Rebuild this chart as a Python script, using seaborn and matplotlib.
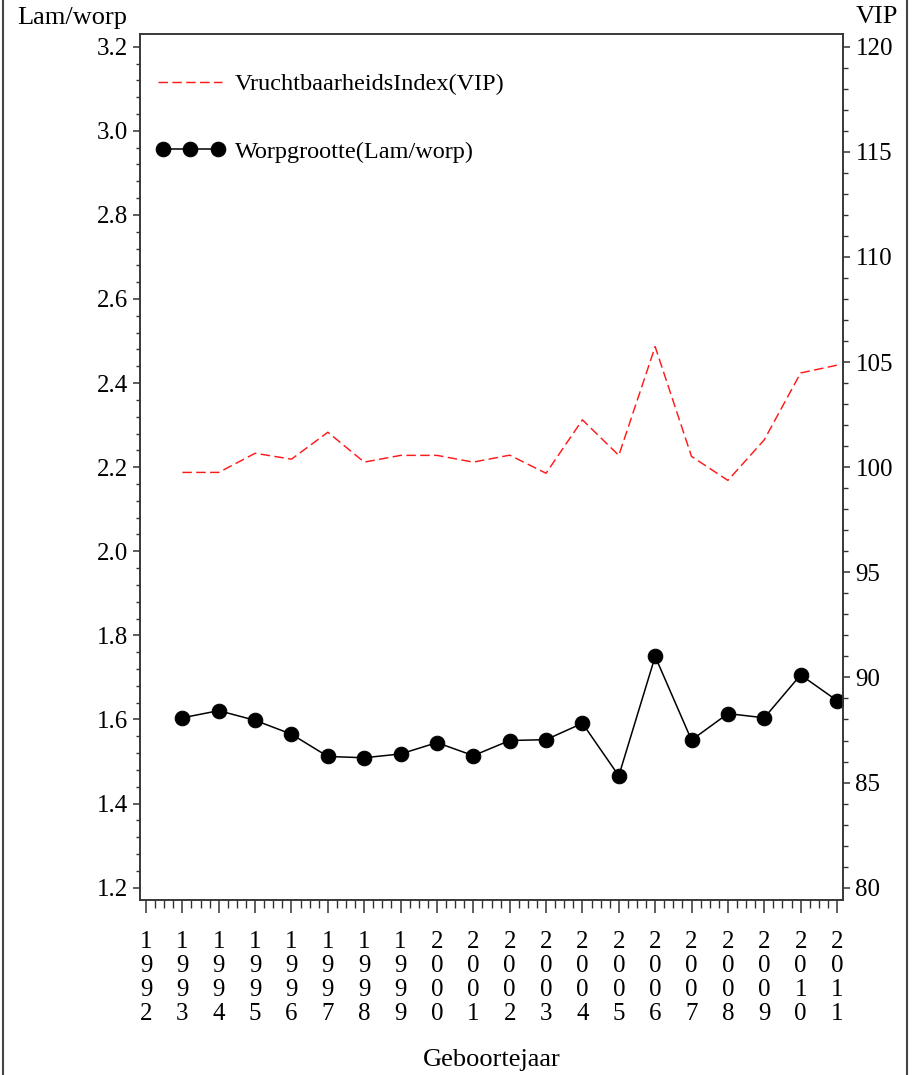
import numpy as np
import pandas as pd
import matplotlib
matplotlib.use("Agg")
import matplotlib.pyplot as plt
import seaborn as sns
from matplotlib.lines import Line2D
from matplotlib.legend_handler import HandlerLine2D
from matplotlib.ticker import MultipleLocator, FormatStrFormatter, FixedLocator

# Birth-year series: litter size (lambs per litter) and fertility index
years = list(range(1993, 2012))
worpgrootte = [1.604, 1.621, 1.598, 1.565, 1.512, 1.509, 1.518, 1.545, 1.514, 1.550,
               1.552, 1.591, 1.466, 1.750, 1.551, 1.614, 1.604, 1.706, 1.645]
vip = [99.75, 99.75, 100.66, 100.38, 101.66, 100.24, 100.56, 100.56, 100.24, 100.57,
       99.71, 102.25, 100.56, 105.73, 100.51, 99.37, 101.3, 104.48, 104.85]
tick_years = list(range(1992, 2012))
left_ticks = [1.2, 1.4, 1.6, 1.8, 2.0, 2.2, 2.4, 2.6, 2.8, 3.0, 3.2]
right_ticks = [80, 85, 90, 95, 100, 105, 110, 115, 120]

label_vip = "VruchtbaarheidsIndex(VIP)"
label_worp = "Worpgrootte(Lam/worp)"

df = pd.DataFrame({"jaar": years, "worp": worpgrootte, "vip": vip})

sns.set_style("ticks")
plt.rcParams["font.family"] = ["Liberation Serif", "DejaVu Serif"]
plt.rcParams["font.size"] = 18
plt.rcParams["text.color"] = "black"
plt.rcParams["axes.labelcolor"] = "black"
plt.rcParams["axes.edgecolor"] = "#333333"
plt.rcParams["xtick.color"] = "#333333"
plt.rcParams["ytick.color"] = "#333333"
plt.rcParams["xtick.labelcolor"] = "black"
plt.rcParams["ytick.labelcolor"] = "black"

fig = plt.figure(figsize=(9.24, 10.75), dpi=100)
ax = fig.add_axes([140 / 924, 1 - 900 / 1075, 703 / 924, 866 / 1075])
ax2 = ax.twinx()

sns.lineplot(data=df, x="jaar", y="worp", ax=ax, color="black", linewidth=1.1,
             marker="o", markersize=10.5, markeredgecolor="black", label=label_worp,
             legend=False)
sns.lineplot(data=df, x="jaar", y="vip", ax=ax2, color="#ff1a1a", linewidth=1.05,
             dashes=False, label=label_vip, legend=False)
ax2.get_lines()[0].set_dashes((6.5, 3))

ax.set_xlim(1991.835, 2011.165)
ax.set_ylim(1.1707, 3.2302)
ax2.set_ylim(79.415, 120.6)

ax.xaxis.set_major_locator(FixedLocator(tick_years))
ax.set_xticklabels(["\n".join(str(y)) for y in tick_years], linespacing=1.13)
ax.xaxis.set_minor_locator(MultipleLocator(0.25))
ax.yaxis.set_major_locator(FixedLocator(left_ticks))
ax.yaxis.set_major_formatter(FormatStrFormatter("%.1f"))
ax.yaxis.set_minor_locator(MultipleLocator(0.04))
ax2.yaxis.set_major_locator(FixedLocator(right_ticks))
ax2.yaxis.set_major_formatter(FormatStrFormatter("%d"))
ax2.yaxis.set_minor_locator(MultipleLocator(1))

for a in (ax, ax2):
    for s in a.spines.values():
        s.set_linewidth(1.1)
        s.set_color("#333333")

ax.tick_params(axis="x", which="major", length=9, width=1.1, pad=13, labelsize=18)
ax.tick_params(axis="x", which="minor", length=5.5, width=1.0)
ax.tick_params(axis="y", which="major", length=5, width=1.1, pad=3.5, labelsize=18)
ax.tick_params(axis="y", which="minor", length=3, width=1.0)
ax2.tick_params(axis="y", which="major", length=5, width=1.1, pad=4, labelsize=18)
ax2.tick_params(axis="y", which="minor", length=3.5, width=1.0)

ax.set_xlabel("Geboortejaar", fontsize=19, labelpad=17)
ax.set_ylabel("")
ax2.set_ylabel("")
fig.text(17 / 924, 1 - 18 / 1075, "Lam/worp", fontsize=19, ha="left", va="center")
fig.text(877 / 924, 1 - 17 / 1075, "VIP", fontsize=19, ha="center", va="center")

handles = [ax2.get_lines()[0], ax.get_lines()[0]]
ax2.legend(handles, [label_vip, label_worp], loc="upper left",
           bbox_to_anchor=(18 / 703, 1 - 39 / 866), frameon=False, borderpad=0,
           borderaxespad=0, handlelength=2.65, handletextpad=0.5,
           labelspacing=1.88, fontsize=17.5,
           handler_map={handles[0]: HandlerLine2D(numpoints=1),
                        handles[1]: HandlerLine2D(numpoints=3, marker_pad=0.2)})

# Side rules framing the graphic
fig.add_artist(Line2D([2.5 / 924, 2.5 / 924], [0, 1], color="#444444", linewidth=1.5))
fig.add_artist(Line2D([907 / 924, 907 / 924], [0, 1], color="#444444", linewidth=1.5))

fig.savefig("out.png", dpi=100)
